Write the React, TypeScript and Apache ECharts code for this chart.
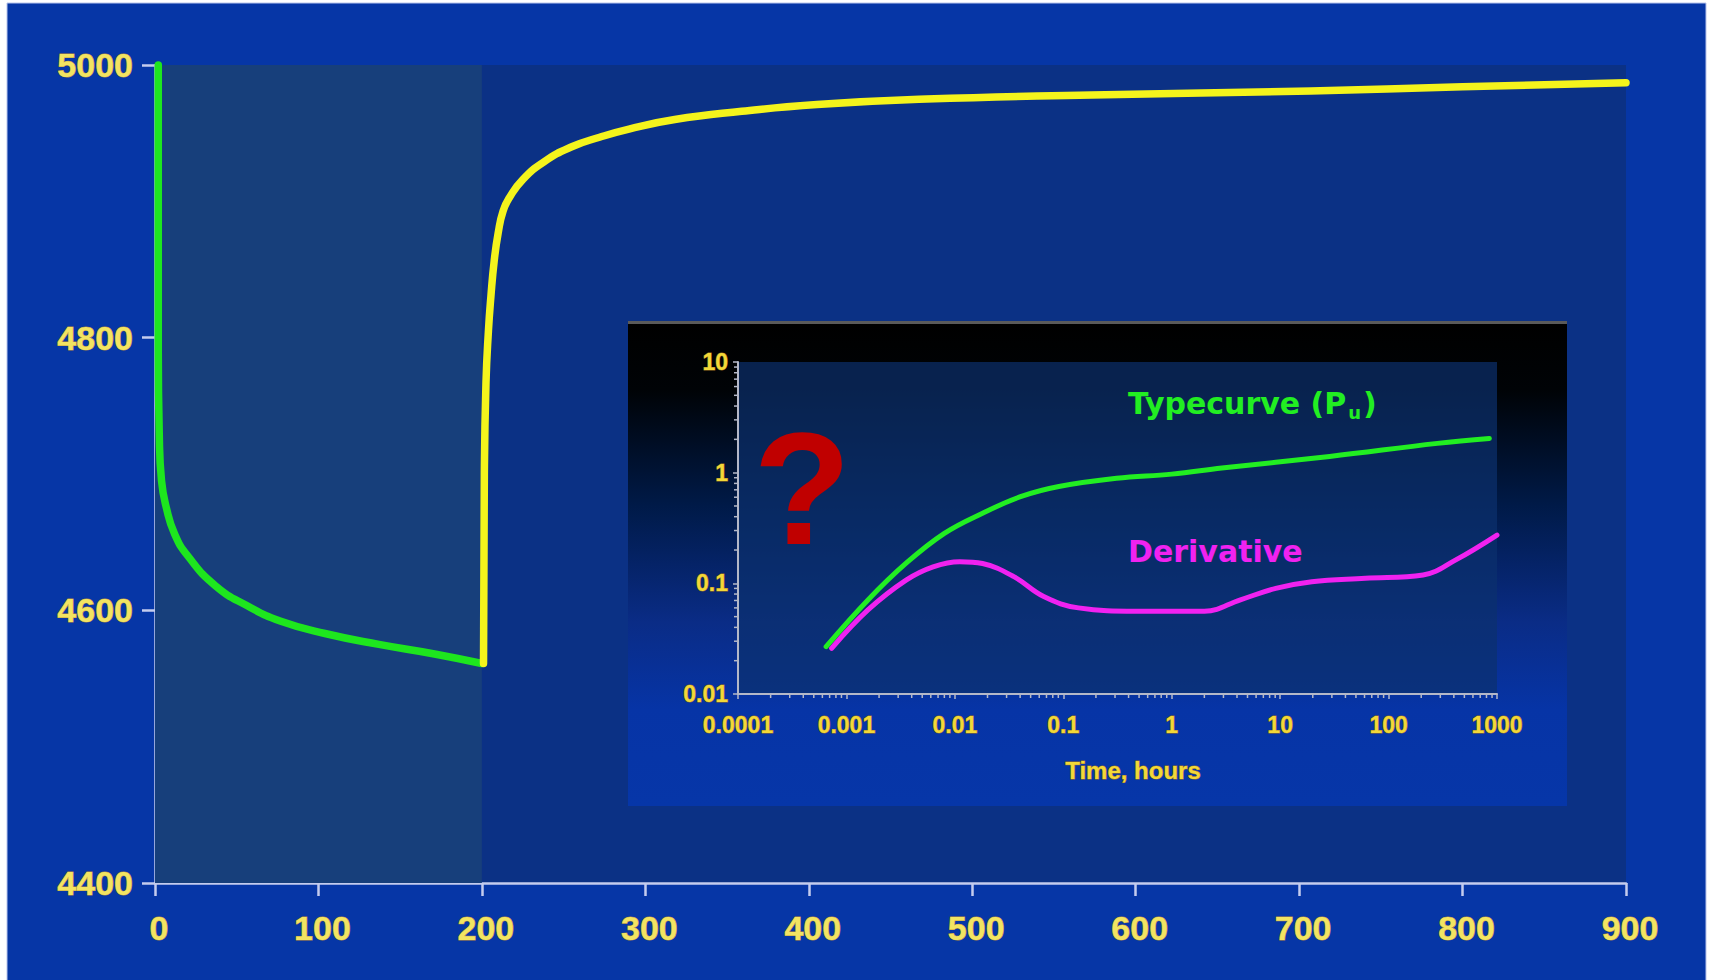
import React, { useEffect, useRef } from "react";
import * as echarts from "echarts";

// ---- Main chart: pressure vs time (drawdown then buildup) ----
const drawdownTime = [2, 2, 2.6, 4, 7, 12, 20, 37, 57, 77, 104, 137, 171, 200];
const drawdownPressure = [5000, 4790, 4730, 4695, 4675, 4656, 4640, 4618, 4603, 4592, 4583, 4575, 4568, 4561];

const buildupTime = [201, 201.5, 202.5, 204, 205.5, 207.5, 210, 213, 217, 225, 238, 255, 272, 290, 318, 359, 405, 472, 573, 707, 800, 900];
const buildupPressure = [4561, 4700, 4767, 4805, 4830, 4856, 4877, 4893, 4903, 4916, 4929, 4940, 4947, 4953, 4960, 4966, 4971, 4975, 4978, 4981, 4984, 4987];

const drawdownPeriod = [0, 200];

// ---- Inset: log-log typecurve and derivative ----
const typecurveTime = [0.00065, 0.00158, 0.00355, 0.008, 0.018, 0.041, 0.091, 0.31, 1.0, 2.9, 28.6, 282, 850];
const typecurveValue = [0.0268, 0.0708, 0.152, 0.283, 0.43, 0.61, 0.75, 0.89, 0.97, 1.1, 1.4, 1.84, 2.04];

const derivativeTime = [0.00073, 0.00158, 0.00355, 0.0063, 0.0111, 0.018, 0.035, 0.066, 0.138, 0.47, 2.0, 4.3, 9.1, 19.6, 61, 208, 413, 1000];
const derivativeValue = [0.0259, 0.0575, 0.107, 0.141, 0.157, 0.151, 0.115, 0.076, 0.06, 0.056, 0.056, 0.071, 0.09, 0.1035, 0.111, 0.119, 0.162, 0.273];

const insetXLabels = ["0.0001", "0.001", "0.01", "0.1", "1", "10", "100", "1000"];
const insetYLabels = ["0.01", "0.1", "1", "10"];
const minorMultipliers = [2, 3, 4, 5, 6, 7, 8, 9];

const zip = (a: number[], b: number[]) => a.map((v, i) => [v, b[i]]);

const logLabel = (labels: string[]) => (v: number) =>
  labels.find((s) => Math.abs(Math.log10(Number(s)) - Math.log10(v)) < 1e-6) ?? "";

const minorTicks = (labels: string[]) => {
  const out: number[] = [];
  for (let i = 0; i < labels.length - 1; i++) {
    const base = Number(labels[i]);
    minorMultipliers.forEach((m) => out.push(base * m));
  }
  return out;
};

const MAIN_FONT = "'Liberation Sans', Arial, sans-serif";
const INSET_FONT = "'Liberation Sans', Arial, sans-serif";
const TEXT_FONT = "'DejaVu Sans', Verdana, sans-serif";
const mainLabelColor = "#f2e462";
const mainLabelBorder = "#b48a3c";
const insetLabelColor = "#f2d838";
const insetLabelBorder = "#9a7020";
const axisColor = "#c4ccee";
const insetAxisColor = "#b4b8c8";

export default function App() {
  const ref = useRef<HTMLDivElement>(null);

  useEffect(() => {
    if (!ref.current) return;
    const chart = echarts.init(ref.current, null, { renderer: "svg" });

    const mainLabel = {
      fontSize: 34,
      fontFamily: MAIN_FONT,
      fontWeight: "bold",
      color: mainLabelColor,
      textBorderColor: mainLabelBorder,
      textBorderWidth: 1,
      formatter: (v: number) => String(v),
    };
    const insetLabel = {
      fontSize: 23,
      fontFamily: INSET_FONT,
      fontWeight: "bold",
      color: insetLabelColor,
      textBorderColor: insetLabelBorder,
      textBorderWidth: 1,
    };

    const option: any = {
      animation: false,
      backgroundColor: "#ffffff",
      graphic: [
        {
          type: "rect",
          z: -40,
          shape: { x: 7, y: 3, width: 1699, height: 1000 },
          style: { fill: "#0636a6", stroke: "#b8c4ec", lineWidth: 1 },
          silent: true,
        },
        {
          type: "rect",
          z: -20,
          shape: { x: 628, y: 322, width: 939, height: 484 },
          style: {
            fill: new echarts.graphic.LinearGradient(0, 0, 0, 1, [
              { offset: 0, color: "#000000" },
              { offset: 0.14, color: "#000306" },
              { offset: 0.38, color: "#001a48" },
              { offset: 0.62, color: "#0a2c86" },
              { offset: 0.8, color: "#0634a6" },
              { offset: 1, color: "#0636a8" },
            ]),
          },
          silent: true,
        },
        {
          type: "rect",
          z: -19,
          shape: { x: 628, y: 321, width: 939, height: 3 },
          style: { fill: "#5a5a5a" },
          silent: true,
        },
        {
          type: "text",
          z: 10,
          x: 802,
          y: 488,
          style: {
            text: "?",
            fill: "#c00000",
            font: "bold 160px 'Liberation Sans', Arial, sans-serif",
            textAlign: "center",
            textVerticalAlign: "middle",
          },
        },
        {
          type: "text",
          z: 10,
          x: 1128,
          y: 403,
          style: {
            text: "{a|Typecurve (P}{s|u}{a|)}",
            textAlign: "left",
            textVerticalAlign: "middle",
            rich: {
              a: {
                fontSize: 30,
                fontFamily: TEXT_FONT,
                fontWeight: "bold",
                fill: "#22ee22",
                color: "#22ee22",
                lineHeight: 36,
              },
              s: {
                fontSize: 18,
                fontFamily: TEXT_FONT,
                fontWeight: "bold",
                fill: "#22ee22",
                color: "#22ee22",
                lineHeight: 36,
                verticalAlign: "bottom",
                padding: [14, 2, 0, 2],
              },
            },
          },
        },
        {
          type: "text",
          z: 10,
          x: 1128,
          y: 551,
          style: {
            text: "Derivative",
            fill: "#f022f0",
            font: "bold 30px 'DejaVu Sans', Verdana, sans-serif",
            textAlign: "left",
            textVerticalAlign: "middle",
          },
        },
        {
          type: "text",
          z: 10,
          x: 1133,
          y: 770,
          style: {
            text: "Time, hours",
            fill: insetLabelColor,
            stroke: insetLabelBorder,
            lineWidth: 1,
            font: "bold 24px 'Liberation Sans', Arial, sans-serif",
            textAlign: "center",
            textVerticalAlign: "middle",
          },
        },
      ],
      grid: [
        { left: 155, top: 65, width: 1471, height: 818, show: true, backgroundColor: "#0b3185", borderWidth: 0, z: -30 },
        { left: 738, top: 362, width: 759, height: 332, show: true, backgroundColor: "rgba(12,48,110,0.7)", borderWidth: 0, z: -10 },
      ],
      xAxis: [
        {
          type: "value",
          gridIndex: 0,
          min: 0,
          max: 900,
          interval: 100,
          axisLine: { show: true, onZero: false, lineStyle: { color: axisColor, width: 2.5 } },
          axisTick: { show: true, length: 13, lineStyle: { color: axisColor, width: 2.5 } },
          axisLabel: { ...mainLabel, margin: 28, padding: [0, 0, 0, 8] },
          splitLine: { show: false },
        },
        {
          type: "log",
          gridIndex: 1,
          logBase: 10,
          min: 0.0001,
          max: 1000,
          splitNumber: 7,
          axisLine: { show: true, onZero: false, lineStyle: { color: insetAxisColor, width: 2 } },
          axisTick: { show: true, length: 5, lineStyle: { color: insetAxisColor, width: 1.5 } },
          axisLabel: { ...insetLabel, margin: 19, formatter: logLabel(insetXLabels) },
          splitLine: { show: false },
        },
      ],
      yAxis: [
        {
          type: "value",
          gridIndex: 0,
          min: 4400,
          max: 5000,
          interval: 200,
          axisLine: { show: true, onZero: false, lineStyle: { color: axisColor, width: 2.5 } },
          axisTick: { show: true, length: 13, lineStyle: { color: axisColor, width: 2.5 } },
          axisLabel: { ...mainLabel, margin: 22, padding: [6, 0, 0, 0] },
          splitLine: { show: false },
        },
        {
          type: "log",
          gridIndex: 1,
          logBase: 10,
          min: 0.01,
          max: 10,
          splitNumber: 3,
          axisLine: { show: true, onZero: false, lineStyle: { color: insetAxisColor, width: 2 } },
          axisTick: { show: true, length: 5, lineStyle: { color: insetAxisColor, width: 1.5 } },
          axisLabel: { ...insetLabel, margin: 10, formatter: logLabel(insetYLabels) },
          splitLine: { show: false },
        },
      ],
      series: [
        {
          name: "Drawdown",
          type: "line",
          xAxisIndex: 0,
          yAxisIndex: 0,
          data: zip(drawdownTime, drawdownPressure),
          showSymbol: false,
          smooth: 0.5,
          clip: false,
          lineStyle: { color: "#1ee61e", width: 7.5, cap: "round", join: "round" },
          z: 3,
          markArea: {
            silent: true,
            label: { show: false },
            itemStyle: { color: "#173f7b" },
            data: [[{ xAxis: drawdownPeriod[0] }, { xAxis: drawdownPeriod[1] }]],
          },
        },
        {
          name: "Buildup",
          type: "line",
          xAxisIndex: 0,
          yAxisIndex: 0,
          data: zip(buildupTime, buildupPressure),
          showSymbol: false,
          smooth: 0.5,
          clip: false,
          lineStyle: { color: "#f4f41c", width: 7.5, cap: "round", join: "round" },
          z: 3,
        },
        {
          name: "Typecurve (Pu)",
          type: "line",
          xAxisIndex: 1,
          yAxisIndex: 1,
          data: zip(typecurveTime, typecurveValue),
          showSymbol: false,
          smooth: 0.4,
          lineStyle: { color: "#22ee22", width: 5, cap: "round", join: "round" },
          z: 4,
        },
        {
          name: "Derivative",
          type: "line",
          xAxisIndex: 1,
          yAxisIndex: 1,
          data: zip(derivativeTime, derivativeValue),
          showSymbol: false,
          smooth: 0.4,
          lineStyle: { color: "#f022f0", width: 5, cap: "round", join: "round" },
          z: 5,
        },
        {
          name: "xMinorTicks",
          type: "custom",
          xAxisIndex: 1,
          yAxisIndex: 1,
          silent: true,
          clip: false,
          data: minorTicks(insetXLabels).map((v) => [v, Number(insetYLabels[0])]),
          renderItem: (params: any, api: any) => {
            const p = api.coord([api.value(0), api.value(1)]);
            return {
              type: "line",
              shape: { x1: p[0], y1: p[1], x2: p[0], y2: p[1] + 4 },
              style: { stroke: insetAxisColor, lineWidth: 1.5 },
            };
          },
        },
        {
          name: "yMinorTicks",
          type: "custom",
          xAxisIndex: 1,
          yAxisIndex: 1,
          silent: true,
          clip: false,
          data: minorTicks(insetYLabels).map((v) => [Number(insetXLabels[0]), v]),
          renderItem: (params: any, api: any) => {
            const p = api.coord([api.value(0), api.value(1)]);
            return {
              type: "line",
              shape: { x1: p[0], y1: p[1], x2: p[0] - 4, y2: p[1] },
              style: { stroke: insetAxisColor, lineWidth: 1.5 },
            };
          },
        },
      ],
    };

    chart.setOption(option);
    return () => chart.dispose();
  }, []);

  return (
    <div
      ref={ref}
      style={{ position: "absolute", left: 0, top: 0, width: 1713, height: 980 }}
    />
  );
}
